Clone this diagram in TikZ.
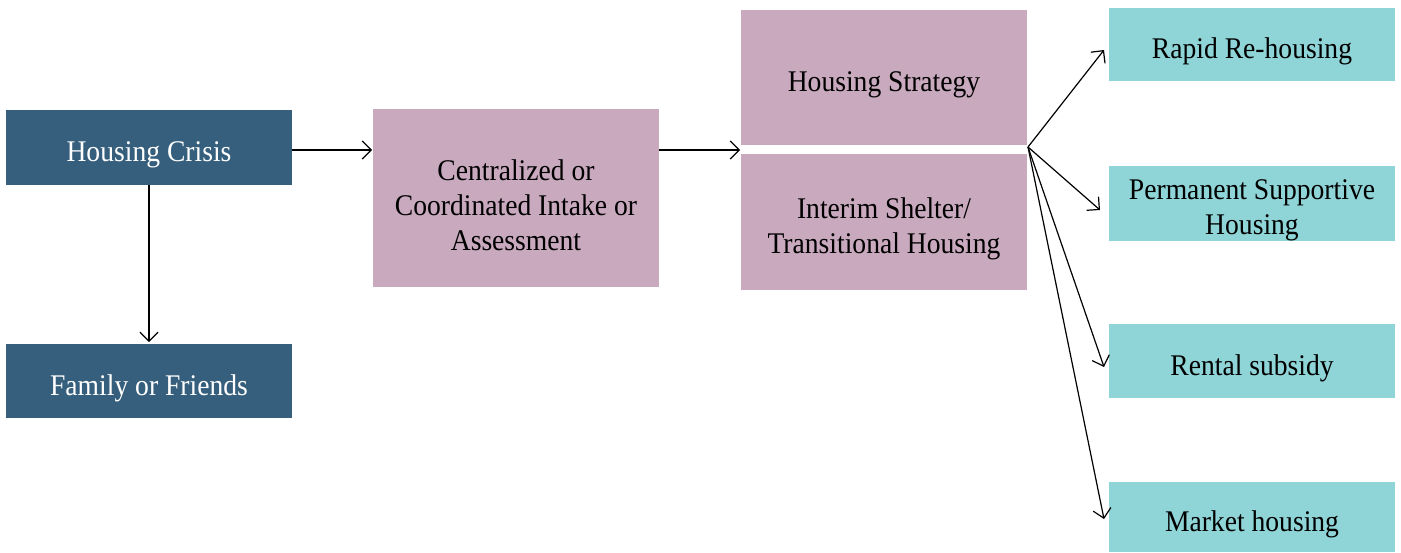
\documentclass[tikz,border=0pt]{standalone}
\usepackage{fontspec}
\setmainfont{Liberation Serif}[FakeStretch=0.92]
\usetikzlibrary{arrows.meta}
\definecolor{darkblue}{HTML}{365F7D}
\definecolor{mauve}{HTML}{C9A9BE}
\definecolor{teal}{HTML}{8FD4D7}
\tikzset{
  box/.style={rectangle, inner sep=0pt, outer sep=0pt, anchor=north west, minimum width=286pt},
  bluebox/.style={box, fill=darkblue},
  mauvebox/.style={box, fill=mauve},
  tealbox/.style={box, fill=teal},
  txt/.style={inner sep=0pt, align=center, font=\fontsize{30}{35}\selectfont, yshift=-7pt},
  lighttxt/.style={txt, text=white},
  conn/.style={draw=black, line width=1.2pt, -{Straight Barb[length=9pt,width=18pt,line width=1.2pt]}}
}
\begin{document}
\begin{tikzpicture}[x=1pt,y=-1pt]
\useasboundingbox (0,0) rectangle (1401,552);
\node[bluebox, minimum height=75pt] (crisis) at (6,110) {};
\node[bluebox, minimum height=74pt] (family) at (6,344) {};
\node[mauvebox, minimum height=178pt] (intake) at (373,109) {};
\node[mauvebox, minimum height=135pt] (strategy) at (741,10) {};
\node[mauvebox, minimum height=136pt] (interim) at (741,154) {};
\node[tealbox, minimum height=73pt] (rapid) at (1109,8) {};
\node[tealbox, minimum height=75pt] (psh) at (1109,166) {};
\node[tealbox, minimum height=74pt] (rental) at (1109,324) {};
\node[tealbox, minimum height=70pt] (market) at (1109,482) {};
\node[lighttxt] (crisis-t) at (crisis.center) {Housing Crisis};
\node[lighttxt] (family-t) at (family.center) {Family or Friends};
\node[txt] (intake-t) at (intake.center) {Centralized or\\Coordinated Intake or\\Assessment};
\node[txt] (strategy-t) at (strategy.center) {Housing Strategy};
\node[txt] (interim-t) at (interim.center) {Interim Shelter/\\Transitional Housing};
\node[txt] (rapid-t) at (rapid.center) {Rapid Re-housing};
\node[txt] (psh-t) at (psh.center) {Permanent Supportive\\Housing};
\node[txt] (rental-t) at (rental.center) {Rental subsidy};
\node[txt] (market-t) at (market.center) {Market housing};
\coordinate (fan) at (1028,147);
\draw[conn] (crisis.east |- 0,150) -- ([xshift=-1pt]intake.west |- 0,150);
\draw[conn] (intake.east |- 0,150) -- ([xshift=-1pt]strategy.west |- 0,150);
\draw[conn] (crisis.south) -- ([yshift=2pt]family.north);
\draw[conn] (fan) -- ([xshift=-5pt,yshift=-5.5pt]rapid.west);
\draw[conn] (fan) -- ([xshift=-9pt,yshift=-6.5pt]psh.west);
\draw[conn] (fan) -- ([xshift=-5pt,yshift=-6pt]rental.west);
\draw[conn] (fan) -- ([xshift=-5pt,yshift=-2pt]market.west);
\end{tikzpicture}
\end{document}
